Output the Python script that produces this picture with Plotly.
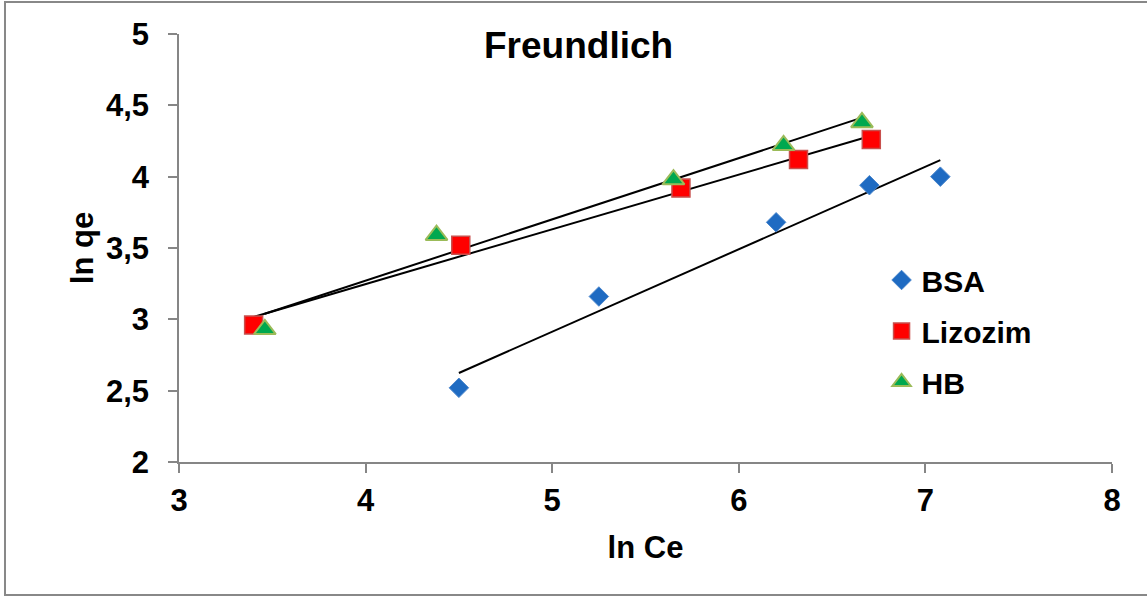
import numpy as np
import plotly.graph_objects as go

# ln Ce / ln qe values for each protein
bsa_x = [4.50, 5.25, 6.20, 6.70, 7.08]
bsa_y = [2.52, 3.16, 3.68, 3.94, 4.00]

liz_x = [3.40, 4.51, 5.69, 6.32, 6.71]
liz_y = [2.96, 3.52, 3.92, 4.12, 4.26]

hb_x = [3.46, 4.38, 5.65, 6.24, 6.66]
hb_y = [2.93, 3.59, 3.98, 4.22, 4.38]

x_ticks = [3, 4, 5, 6, 7, 8]
y_ticks = [2, 2.5, 3, 3.5, 4, 4.5, 5]
y_tick_text = ["2", "2,5", "3", "3,5", "4", "4,5", "5"]

FONT = "Liberation Sans, Arial, sans-serif"
AXIS_COLOR = "#868686"

series = [
    ("BSA", bsa_x, bsa_y, dict(symbol="diamond", size=15, color="#1F6BC2",
                               line=dict(color="#4A86CC", width=1))),
    ("Lizozim", liz_x, liz_y, dict(symbol="square", size=18, color="#FF0000",
                                   line=dict(color="#C8504D", width=1.5))),
    ("HB", hb_x, hb_y, dict(symbol="triangle-up", size=19, color="#00A84F",
                            line=dict(color="#9BBB59", width=2))),
]

fig = go.Figure()

# linear trend lines (least squares) over each series' x range
for name, xs, ys, _ in series:
    slope, intercept = np.polyfit(xs, ys, 1)
    xr = np.array([min(xs), max(xs)])
    fig.add_trace(go.Scatter(
        x=xr, y=slope * xr + intercept, mode="lines",
        line=dict(color="black", width=2), showlegend=False, hoverinfo="skip"))

for name, xs, ys, marker in series:
    fig.add_trace(go.Scatter(
        x=xs, y=ys, mode="markers", name=name, marker=marker,
        legendgroup=name))

fig.update_layout(
    width=1147, height=597,
    margin=dict(l=179, r=35, t=34, b=135),
    paper_bgcolor="white", plot_bgcolor="white",
    font=dict(family=FONT, color="black", size=31, weight="bold"),
    showlegend=True,
    legend=dict(x=0.753, y=0.486, xanchor="left", yanchor="top",
                font=dict(family=FONT, size=30, weight="bold"),
                tracegroupgap=9, bgcolor="rgba(0,0,0,0)",
                itemsizing="trace"),
    annotations=[dict(
        text="Freundlich", x=0.4287, y=0.973, xref="paper", yref="paper",
        xanchor="center", yanchor="middle", showarrow=False,
        font=dict(family=FONT, size=37, weight="bold"))],
    shapes=[dict(type="rect", xref="paper", yref="paper",
                 x0=-0.1865, x1=1.06, y0=-0.3107, y1=1.0748,
                 line=dict(color="#888888", width=2))],
)

fig.update_xaxes(
    range=[3, 8], tickvals=x_ticks, showgrid=False, zeroline=False,
    showline=True, linecolor=AXIS_COLOR, linewidth=1.5,
    ticks="outside", ticklen=9, tickcolor=AXIS_COLOR, tickwidth=1.5,
    ticklabelstandoff=1,
    tickfont=dict(family=FONT, size=31, weight="bold"),
    title=dict(text="ln Ce", font=dict(family=FONT, size=31, weight="bold"),
               standoff=19))

fig.update_yaxes(
    range=[2, 5], tickvals=y_ticks, ticktext=y_tick_text, showgrid=False,
    zeroline=False, showline=True, linecolor=AXIS_COLOR, linewidth=1.5,
    ticks="outside", ticklen=9, tickcolor=AXIS_COLOR, tickwidth=1.5,
    ticklabelstandoff=13,
    tickfont=dict(family=FONT, size=31, weight="bold"),
    title=dict(text="ln qe", font=dict(family=FONT, size=31, weight="bold"),
               standoff=3))

fig.write_html("out.html")
